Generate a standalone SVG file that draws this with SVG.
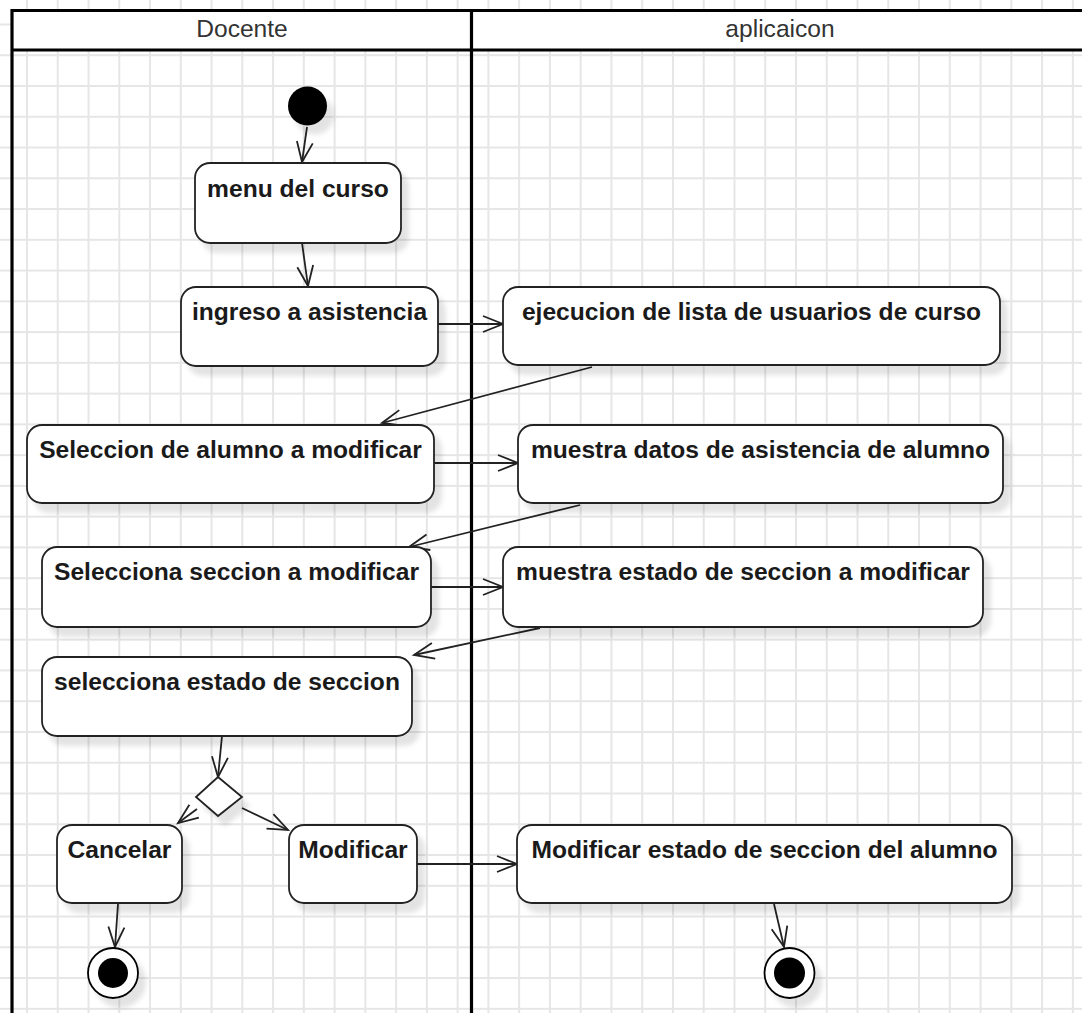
<svg xmlns="http://www.w3.org/2000/svg" width="1082" height="1013" viewBox="0 0 1082 1013">
  <defs>
    <pattern id="grid" patternUnits="userSpaceOnUse" x="26" y="23.5" width="30.76" height="30.76">
      <rect x="0" y="0" width="2" height="30.76" fill="#e6e6e6"/>
      <rect x="0" y="0" width="30.76" height="2" fill="#e6e6e6"/>
    </pattern>
    <filter id="shadow" x="-20%" y="-20%" width="150%" height="160%">
      <feDropShadow dx="7" dy="9" stdDeviation="2.5" flood-color="#000" flood-opacity="0.11"/>
    </filter>
    <marker id="open" markerUnits="userSpaceOnUse" markerWidth="26" markerHeight="22" viewBox="-22 -11 26 22" refX="0" refY="0" orient="auto">
      <path d="M-20,-8 L0,0 L-20,8" fill="none" stroke="#222" stroke-width="1.8"/>
    </marker>
    <style>
      .act { fill: #fff; stroke: #222; stroke-width: 1.8; filter: url(#shadow); }
      .lbl { font-family: "Liberation Sans", Arial, sans-serif; font-weight: bold; font-size: 24.6px; fill: #1a1a1a; text-anchor: middle; }
      .hdr { font-family: "Liberation Sans", Arial, sans-serif; font-size: 24.6px; fill: #333; text-anchor: middle; }
      .edge { fill: none; stroke: #222; stroke-width: 1.8; marker-end: url(#open); }
      .lane { fill: none; stroke: #000; stroke-width: 3.2; }
    </style>
  </defs>

  <!-- canvas grid -->
  <rect width="1082" height="1013" fill="#fff"/>
  <rect width="1082" height="1013" fill="url(#grid)"/>

  <!-- swimlanes -->
  <g id="pool">
    <rect x="12" y="10.5" width="1080" height="40" fill="#fff"/>
    <line class="lane" x1="12" y1="10.5" x2="1090" y2="10.5"/>
    <line class="lane" x1="12" y1="50" x2="1090" y2="50"/>
    <line class="lane" x1="12" y1="9" x2="12" y2="1013"/>
    <line class="lane" x1="471.5" y1="9" x2="471.5" y2="1013"/>
    <text class="hdr" x="242" y="37">Docente</text>
    <text class="hdr" x="780" y="37">aplicaicon</text>
  </g>

  <!-- connectors -->
  <g id="connectors">
    <path class="edge" d="M307,127 L302,162"/>
    <path class="edge" d="M302,243 L308,286"/>
    <path class="edge" d="M438,324 L503,324"/>
    <path class="edge" d="M592,367 L382,423"/>
    <path class="edge" d="M434,463 L518,463"/>
    <path class="edge" d="M580,505 L409,547"/>
    <path class="edge" d="M431,587 L503,587"/>
    <path class="edge" d="M540,628 L414,655"/>
    <path class="edge" d="M222,736 L218,777"/>
    <path class="edge" d="M197,809 L178,823"/>
    <path class="edge" d="M242,808 L288,830"/>
    <path class="edge" d="M417,864 L517,864"/>
    <path class="edge" d="M118,904 L115,947"/>
    <path class="edge" d="M774,904 L784,947"/>
  </g>

  <!-- start -->
  <g id="start">
    <circle cx="307.5" cy="106" r="19.5" fill="#000" filter="url(#shadow)"/>
  </g>

  <g id="menu">
    <rect class="act" x="195" y="163" width="206" height="80" rx="15"/>
    <text class="lbl" x="298" y="197">menu del curso</text>
  </g>

  <g id="ingreso">
    <rect class="act" x="181" y="287" width="257" height="79" rx="15"/>
    <text class="lbl" x="309.5" y="320">ingreso a asistencia</text>
  </g>

  <g id="ejecucion">
    <rect class="act" x="503" y="287" width="497" height="78" rx="15"/>
    <text class="lbl" x="751.5" y="320">ejecucion de lista de usuarios de curso</text>
  </g>

  <g id="seleccion-alumno">
    <rect class="act" x="27" y="425" width="407" height="78" rx="15"/>
    <text class="lbl" x="230.5" y="458">Seleccion de alumno a modificar</text>
  </g>

  <g id="muestra-datos">
    <rect class="act" x="518" y="425" width="485" height="78" rx="15"/>
    <text class="lbl" x="760.5" y="458">muestra datos de asistencia de alumno</text>
  </g>

  <g id="selecciona-seccion">
    <rect class="act" x="42" y="547" width="389" height="80" rx="15"/>
    <text class="lbl" x="236.5" y="580">Selecciona seccion a modificar</text>
  </g>

  <g id="muestra-estado">
    <rect class="act" x="503" y="547" width="480" height="80" rx="15"/>
    <text class="lbl" x="743" y="580">muestra estado de seccion a modificar</text>
  </g>

  <g id="selecciona-estado">
    <rect class="act" x="42" y="657" width="370" height="79" rx="15"/>
    <text class="lbl" x="227" y="690">selecciona estado de seccion</text>
  </g>

  <g id="decision">
    <path class="act" d="M218,777 L242,797 L218,816 L196,797 Z"/>
  </g>

  <g id="cancelar">
    <rect class="act" x="57" y="825" width="125" height="78" rx="15"/>
    <text class="lbl" x="119.5" y="858">Cancelar</text>
  </g>

  <g id="modificar">
    <rect class="act" x="289" y="825" width="128" height="78" rx="15"/>
    <text class="lbl" x="353" y="858">Modificar</text>
  </g>

  <g id="modificar-estado">
    <rect class="act" x="517" y="825" width="495" height="78" rx="15"/>
    <text class="lbl" x="764.5" y="858">Modificar estado de seccion del alumno</text>
  </g>

  <g id="end-cancel">
    <circle cx="113" cy="973" r="25" fill="#fff" stroke="#000" stroke-width="1.8" filter="url(#shadow)"/>
    <circle cx="113" cy="973" r="15" fill="#000"/>
  </g>

  <g id="end-modify">
    <circle cx="789.5" cy="973" r="25" fill="#fff" stroke="#000" stroke-width="1.8" filter="url(#shadow)"/>
    <circle cx="789.5" cy="973" r="15.5" fill="#000"/>
  </g>
</svg>
